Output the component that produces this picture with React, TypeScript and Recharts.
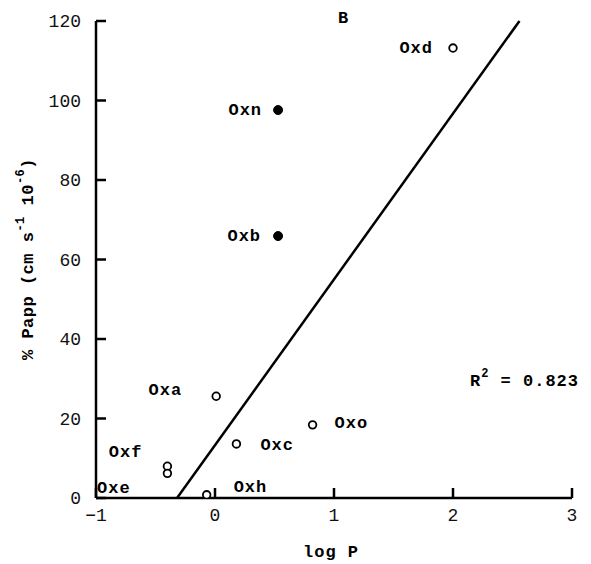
import React from 'react';
import { ScatterChart, Scatter, XAxis, YAxis, ReferenceLine, Label } from 'recharts';

// open circles
const openNames = ['Oxd', 'Oxa', 'Oxc', 'Oxo', 'Oxf', 'Oxf', 'Oxh', 'Oxe'];
const openLogP = [2.0, 0.01, 0.18, 0.82, -0.4, -0.4, -0.07, -1.0];
const openPapp = [113.2, 25.6, 13.6, 18.4, 8.0, 6.2, 0.8, 2.5];

// filled circles
const filledNames = ['Oxn', 'Oxb'];
const filledLogP = [0.53, 0.53];
const filledPapp = [97.6, 65.9];

// linear fit
const fitSlope = 41.7;
const fitIntercept = 13.3;
const rSquared = 0.823;

const xTicks = [-1, 0, 1, 2, 3];
const yTicks = [0, 20, 40, 60, 80, 100, 120];

const W = 591;
const H = 564;
const mono = '"Liberation Mono", "DejaVu Sans Mono", monospace';

// where each name label sits relative to its marker (px)
const labelPlacement: Record<string, { anchor: 'start' | 'end'; dx: number; dy: number }> = {
  Oxd: { anchor: 'end', dx: -20, dy: 0 },
  Oxn: { anchor: 'end', dx: -16, dy: 0 },
  Oxb: { anchor: 'end', dx: -17, dy: 0 },
  Oxa: { anchor: 'end', dx: -34, dy: -6 },
  Oxc: { anchor: 'start', dx: 24, dy: 2 },
  Oxo: { anchor: 'start', dx: 22, dy: -1 },
  Oxf: { anchor: 'end', dx: -25, dy: -14 },
  Oxh: { anchor: 'start', dx: 27, dy: -7 },
  Oxe: { anchor: 'start', dx: 1, dy: 0 },
};
const noMarker = new Set(['Oxe']);

const toPoints = (names: string[], xs: number[], ys: number[]) =>
  names.map((name, i) => ({
    name,
    logP: xs[i],
    papp: ys[i],
    showLabel: names.indexOf(name) === i,
  }));

const openData = toPoints(openNames, openLogP, openPapp);
const filledData = toPoints(filledNames, filledLogP, filledPapp);

const makeShape = (filled: boolean) => (props: any) => {
  const { cx, cy, payload } = props;
  const place = labelPlacement[payload.name];
  return (
    <g>
      {!noMarker.has(payload.name) && (
        <circle
          cx={cx}
          cy={cy}
          r={filled ? 4.5 : 3.8}
          fill={filled ? '#000' : '#fff'}
          stroke="#000"
          strokeWidth={filled ? 1 : 1.8}
        />
      )}
      {payload.showLabel && place && (
        <text
          x={cx + place.dx}
          y={cy + place.dy}
          textAnchor={place.anchor}
          dominantBaseline="central"
          fontFamily={mono}
          fontWeight="bold"
          fontSize={17}
          letterSpacing={1}
          fill="#000"
        >
          {payload.name}
        </text>
      )}
    </g>
  );
};

const fmtX = (v: number) => (v < 0 ? `\u2212${Math.abs(v)}` : `${v}`);

const fitStart = -fitIntercept / fitSlope;
const fitEnd = (120 - fitIntercept) / fitSlope;

export default function App() {
  return (
    <div style={{ position: 'absolute', left: 0, top: 0, width: W, height: H, background: '#fff' }}>
      <ScatterChart width={W} height={H} margin={{ top: 21, right: 19, left: 0, bottom: 0 }}>
        <XAxis
          type="number"
          dataKey="logP"
          domain={[-1, 3]}
          ticks={xTicks}
          tickFormatter={fmtX}
          height={66}
          tickSize={-10}
          tickMargin={20}
          axisLine={{ stroke: '#000', strokeWidth: 2.5 }}
          tickLine={{ stroke: '#000', strokeWidth: 2.5 }}
          tick={{ fill: '#111', fontFamily: mono, fontSize: 18 }}
          allowDataOverflow
        >
          <Label
            content={({ viewBox }: any) => (
              <text
                x={viewBox.x + viewBox.width / 2 - 3}
                y={552}
                textAnchor="middle"
                dominantBaseline="central"
                fontFamily={mono}
                fontWeight="bold"
                fontSize={17}
                letterSpacing={1}
                fill="#000"
              >
                log P
              </text>
            )}
          />
        </XAxis>
        <YAxis
          type="number"
          dataKey="papp"
          domain={[0, 120]}
          ticks={yTicks}
          width={96}
          tickSize={-10}
          tickMargin={25}
          axisLine={{ stroke: '#000', strokeWidth: 2.5 }}
          tickLine={{ stroke: '#000', strokeWidth: 2.5 }}
          tick={{ fill: '#111', fontFamily: mono, fontSize: 18 }}
          allowDataOverflow
        >
          <Label
            content={() => (
              <text
                transform="translate(28, 259) rotate(-90)"
                textAnchor="middle"
                dominantBaseline="central"
                fontFamily={mono}
                fontWeight="bold"
                fontSize={17}
                letterSpacing={0.5}
                fill="#000"
              >
                % Papp (cm s
                <tspan dy={-7} fontSize={12}>-1</tspan>
                <tspan dy={7}> 10</tspan>
                <tspan dy={-7} fontSize={12}>-6</tspan>
                <tspan dy={7}>)</tspan>
              </text>
            )}
          />
        </YAxis>
        <ReferenceLine
          segment={[
            { x: fitStart, y: 0 },
            { x: fitEnd, y: 120 },
          ]}
          stroke="#000"
          strokeWidth={2.5}
          ifOverflow="visible"
        />
        <Scatter data={openData} shape={makeShape(false)} isAnimationActive={false} />
        <Scatter data={filledData} shape={makeShape(true)} isAnimationActive={false} />
      </ScatterChart>
      <svg width={W} height={H} style={{ position: 'absolute', left: 0, top: 0, pointerEvents: 'none' }}>
        <text x={343} y={18} textAnchor="middle" dominantBaseline="central" fontFamily={mono} fontWeight="bold" fontSize={17}>
          B
        </text>
        <text x={470} y={381} dominantBaseline="central" fontFamily={mono} fontWeight="bold" fontSize={17} letterSpacing={1}>
          R<tspan dy={-7} fontSize={12}>2</tspan>
          <tspan dy={7}> = {rSquared}</tspan>
        </text>
      </svg>
    </div>
  );
}
